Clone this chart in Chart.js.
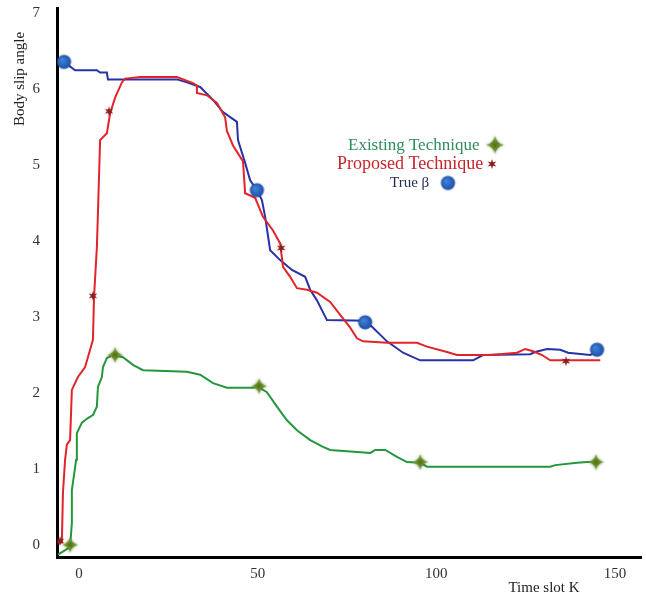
<!DOCTYPE html>
<html>
<head>
<meta charset="utf-8">
<script src="https://cdn.jsdelivr.net/npm/chart.js@4.4.1/dist/chart.umd.min.js"></script>
<style>
  html, body { margin: 0; padding: 0; background: #fff; }
  #chart { display: block; }
</style>
</head>
<body>
<canvas id="chart" width="646" height="597"></canvas>
<script>
// tick labels
const xTicks = [0, 50, 100, 150];
const yTicks = [0, 1, 2, 3, 4, 5, 6, 7];
const seriesNames = ['Existing Technique', 'Proposed Technique', 'True β'];

// True beta (blue)
const trueX = [-4.2, -1.1, 5.0, 5.9, 7.8, 8.1, 27.4, 30.2, 33.9, 37.5, 40.3, 44.2, 44.5, 46.5, 47.9, 49.8,
  51.2, 52.1, 53.5, 56.3, 59.6, 63.3, 64.7, 66.6, 69.4, 80.1, 82.3, 86.2, 90.7, 95.5, 110.3, 113.1,
  126.3, 127.7, 131.0, 134.7, 136.9, 143.1, 145.3];
const trueY = [6.36, 6.25, 6.25, 6.22, 6.22, 6.13, 6.13, 6.09, 6.03, 5.86, 5.70, 5.57, 5.33, 5.03, 4.80, 4.67,
  4.54, 4.32, 3.88, 3.75, 3.62, 3.53, 3.36, 3.22, 2.96, 2.95, 2.86, 2.68, 2.53, 2.43, 2.43, 2.50,
  2.51, 2.54, 2.58, 2.57, 2.53, 2.50, 2.55];

// Proposed technique (red)
const proposedX = [-5.9, -4.8, -4.5, -3.9, -3.4, -2.5, -2.0, -0.3, 1.7, 3.1, 3.9, 4.2, 5.0, 5.3, 5.9, 7.8,
  8.7, 10.1, 12.0, 12.9, 17.1, 27.4, 31.9, 33.0, 33.0, 35.8, 38.6, 40.9, 41.4, 43.1, 45.9, 46.5, 49.3,
  51.5, 54.3, 56.3, 57.1, 59.1, 61.0, 63.8, 66.6, 70.3, 73.1, 75.9, 77.8, 79.5, 86.2, 94.6, 97.4,
  103.0, 105.8, 115.1, 122.6, 124.9, 127.1, 129.6, 131.9, 145.9];
const proposedY = [0.03, 0.03, 0.68, 1.12, 1.32, 1.38, 2.04, 2.21, 2.34, 2.57, 2.70, 3.26, 3.92, 4.37, 5.33, 5.42,
  5.68, 5.89, 6.09, 6.14, 6.16, 6.16, 6.08, 6.05, 5.95, 5.92, 5.82, 5.63, 5.45, 5.26, 5.05, 4.63, 4.57,
  4.32, 4.14, 3.97, 3.66, 3.53, 3.38, 3.36, 3.32, 3.20, 3.03, 2.86, 2.72, 2.68, 2.66, 2.66, 2.61,
  2.54, 2.50, 2.50, 2.53, 2.58, 2.55, 2.50, 2.43, 2.43];

// Existing technique (green)
const existingX = [-5.9, -2.5, -2.0, -2.0, -1.7, -0.8, -0.6, 0.8, 2.5, 3.9, 5.0, 5.3, 6.4, 6.7, 7.8, 9.5,
  12.3, 15.1, 17.9, 30.2, 33.9, 37.5, 41.4, 48.7, 50.1, 52.6, 55.4, 58.2, 61.0, 64.7, 68.3, 70.3,
  81.5, 82.9, 85.7, 89.0, 91.8, 95.5, 97.4, 131.9, 133.3, 139.4, 142.2, 144.7];
const existingY = [-0.13, -0.03, 0.29, 0.72, 0.82, 1.12, 1.47, 1.61, 1.67, 1.71, 1.82, 2.08, 2.21, 2.34, 2.46, 2.50,
  2.47, 2.37, 2.30, 2.28, 2.24, 2.13, 2.07, 2.07, 2.08, 2.01, 1.82, 1.64, 1.51, 1.38, 1.29, 1.25,
  1.21, 1.25, 1.25, 1.16, 1.09, 1.08, 1.03, 1.03, 1.05, 1.08, 1.09, 1.09];

// marker positions
const trueMarkX = [-4.2, 49.8, 80.1, 145.0];
const trueMarkY = [6.36, 4.67, 2.93, 2.57];
const proposedMarkX = [-5.3, 3.9, 8.4, 56.6, 136.3];
const proposedMarkY = [0.05, 3.28, 5.71, 3.91, 2.42];
const existingMarkX = [-2.5, 10.1, 50.4, 95.5, 144.7];
const existingMarkY = [0.0, 2.50, 2.09, 1.09, 1.09];

const zip = (xs, ys) => xs.map((x, i) => ({ x, y: ys[i] }));

// marker glyphs
function sparkle(size) {
  const c = document.createElement('canvas');
  c.width = c.height = size;
  const g = c.getContext('2d');
  const m = size / 2, r = size / 2 - 3, k = r * 0.16;
  g.shadowColor = 'rgba(70,90,20,0.7)';
  g.shadowBlur = 3;
  const grad = g.createRadialGradient(m, m, 0, m, m, r);
  grad.addColorStop(0, '#4f6e12');
  grad.addColorStop(1, '#8fb54a');
  g.fillStyle = grad;
  g.beginPath();
  g.moveTo(m, m - r);
  g.quadraticCurveTo(m + k, m - k, m + r, m);
  g.quadraticCurveTo(m + k, m + k, m, m + r);
  g.quadraticCurveTo(m - k, m + k, m - r, m);
  g.quadraticCurveTo(m - k, m - k, m, m - r);
  g.fill();
  return c;
}

function redStar(size) {
  const c = document.createElement('canvas');
  c.width = c.height = size;
  const g = c.getContext('2d');
  const m = size / 2, ro = size / 2 - 1, ri = ro * 0.42;
  g.fillStyle = '#8c1f22';
  g.beginPath();
  for (let i = 0; i < 12; i++) {
    const a = -Math.PI / 2 + i * Math.PI / 6;
    const rr = i % 2 ? ri : ro;
    const px = m + rr * Math.cos(a), py = m + rr * Math.sin(a);
    i ? g.lineTo(px, py) : g.moveTo(px, py);
  }
  g.closePath();
  g.fill();
  return c;
}

function blueDot(size) {
  const c = document.createElement('canvas');
  c.width = c.height = size;
  const g = c.getContext('2d');
  const m = size / 2;
  g.shadowColor = 'rgba(0,0,0,0.25)';
  g.shadowBlur = 2;
  const grad = g.createRadialGradient(m - 2, m - 2, 1, m, m, m - 1);
  grad.addColorStop(0, '#3f7fd4');
  grad.addColorStop(1, '#1a4ea6');
  g.fillStyle = grad;
  g.beginPath();
  g.arc(m, m, m - 1.5, 0, Math.PI * 2);
  g.fill();
  return c;
}

const greenMark = sparkle(22);
const redMark = redStar(12);
const blueMark = blueDot(17);
const greenLegend = sparkle(24);

const overlay = {
  id: 'overlay',
  afterDraw(chart) {
    const ctx = chart.ctx;
    ctx.save();
    ctx.textBaseline = 'middle';
    ctx.fillStyle = '#222';
    ctx.font = '15px "Liberation Serif"';
    ctx.save();
    ctx.translate(20, 79);
    ctx.rotate(-Math.PI / 2);
    ctx.textAlign = 'center';
    ctx.fillText('Body slip angle', 0, 0);
    ctx.restore();
    ctx.textAlign = 'center';
    ctx.fillText('Time slot K', 544, 588);

    ctx.textAlign = 'left';
    ctx.font = '17px "Liberation Serif"';
    ctx.fillStyle = '#2f8c5c';
    ctx.fillText(seriesNames[0], 348, 146);
    ctx.font = '18px "Liberation Serif"';
    ctx.fillStyle = '#c4262c';
    ctx.fillText(seriesNames[1], 337, 164);
    ctx.font = '15px "Liberation Serif"';
    ctx.fillStyle = '#1f2a55';
    ctx.fillText(seriesNames[2], 390, 183);
    ctx.drawImage(greenLegend, 495 - 12, 145 - 12);
    ctx.drawImage(redMark, 492 - 6, 164 - 6);
    ctx.drawImage(blueMark, 448 - 8.5, 183 - 8.5);
    ctx.restore();
  }
};

const lineDs = (label, data, color) => ({
  type: 'line', label, data, borderColor: color, borderWidth: 2,
  pointRadius: 0, tension: 0, fill: false
});
const markDs = (label, data, img) => ({
  type: 'scatter', label, data, pointStyle: img, pointRadius: 8, showLine: false
});

new Chart(document.getElementById('chart'), {
  type: 'scatter',
  data: {
    datasets: [
      markDs('existing marks', zip(existingMarkX, existingMarkY), greenMark),
      markDs('proposed marks', zip(proposedMarkX, proposedMarkY), redMark),
      markDs('true marks', zip(trueMarkX, trueMarkY), blueMark),
      lineDs(seriesNames[0], zip(existingX, existingY), '#24963c'),
      lineDs(seriesNames[1], zip(proposedX, proposedY), '#e2242a'),
      lineDs(seriesNames[2], zip(trueX, trueY), '#2632a6')
    ]
  },
  options: {
    responsive: false,
    animation: false,
    devicePixelRatio: 1,
    layout: { autoPadding: false, padding: { top: 8, right: 5, left: 0, bottom: 0 } },
    plugins: { legend: { display: false }, tooltip: { enabled: false } },
    scales: {
      x: {
        type: 'linear', min: -6.16, max: 157.3,
        grid: { display: false, drawTicks: false },
        border: { display: true, color: '#000', width: 3 },
        ticks: { font: { family: 'Liberation Serif', size: 15 }, color: '#333', padding: 8 },
        afterBuildTicks: (s) => { s.ticks = xTicks.map((v) => ({ value: v })); },
        afterFit: (s) => { s.height = 40; s.paddingLeft = 0; s.paddingRight = 0; }
      },
      y: {
        type: 'linear', min: -0.16, max: 7.07,
        grid: { display: false, drawTicks: false },
        border: { display: true, color: '#000', width: 3 },
        ticks: { font: { family: 'Liberation Serif', size: 15 }, color: '#333', padding: 17 },
        afterBuildTicks: (s) => { s.ticks = yTicks.map((v) => ({ value: v })); },
        afterFit: (s) => { s.width = 57; s.paddingTop = 0; s.paddingBottom = 0; }
      }
    }
  },
  plugins: [overlay]
});
</script>
</body>
</html>
